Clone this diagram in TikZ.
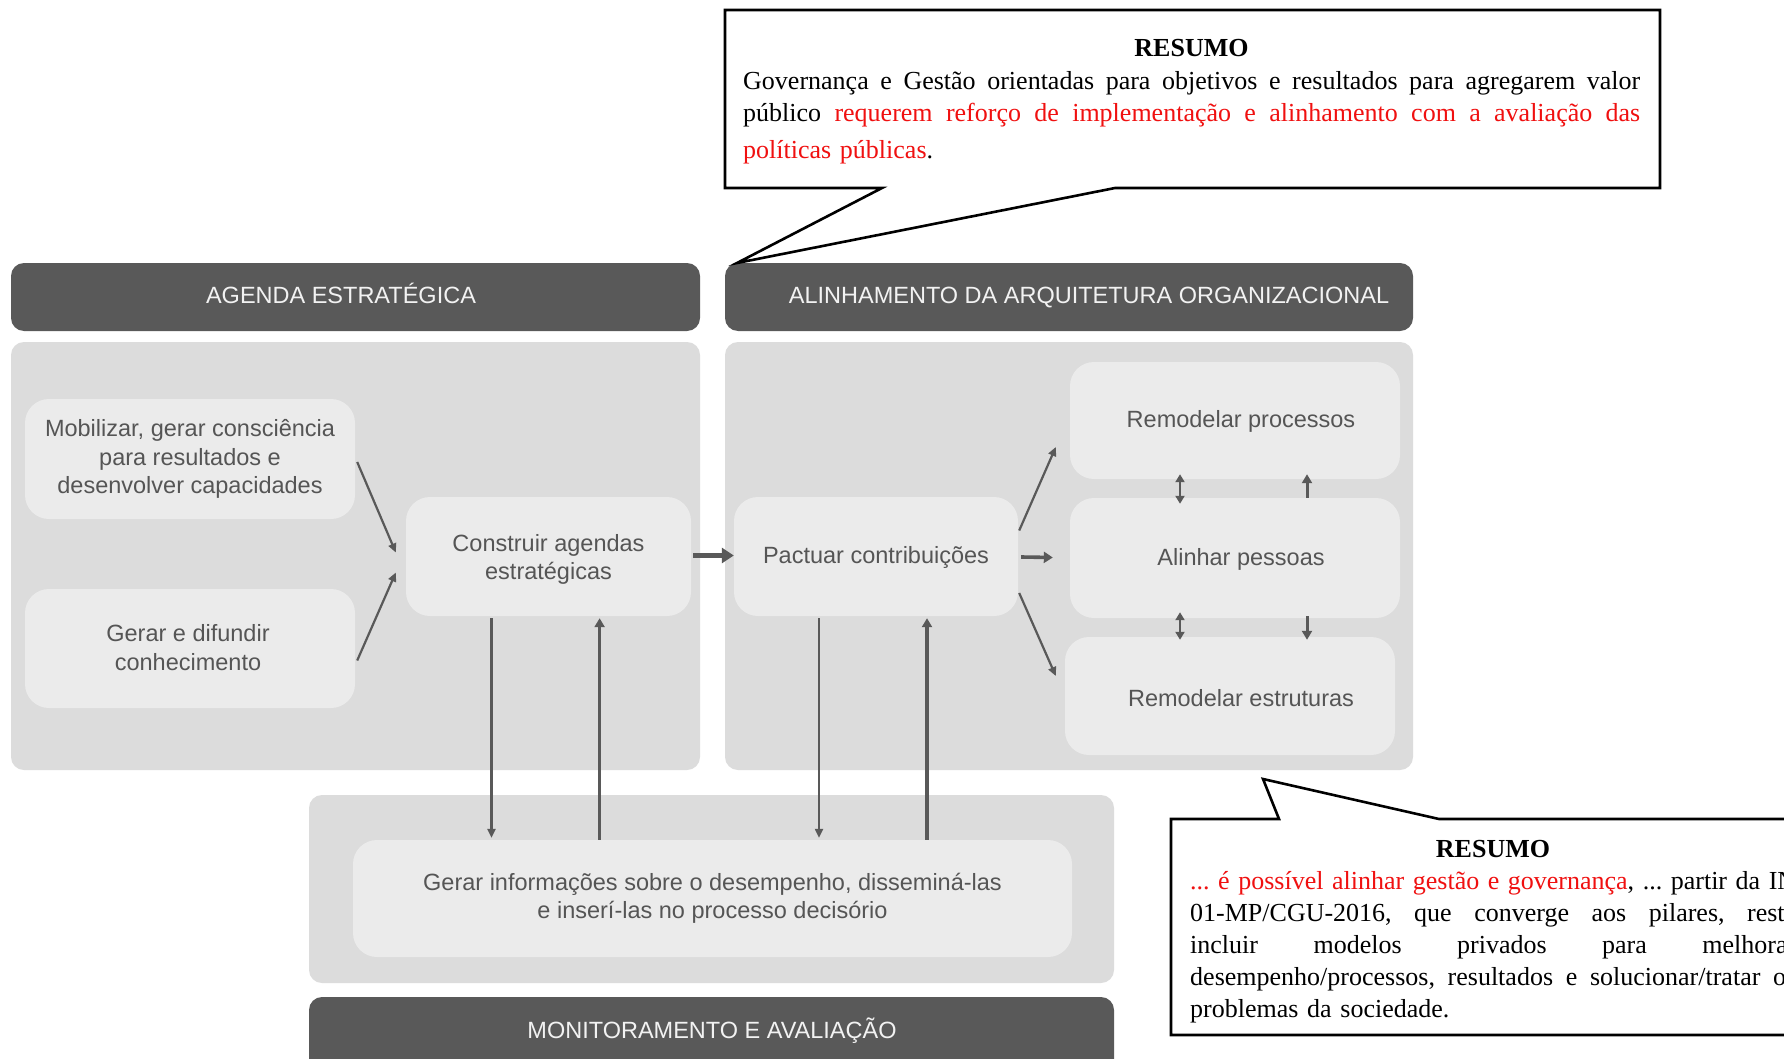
\documentclass[tikz,border=0pt]{standalone}
\usepackage{fontspec}
\setmainfont{Liberation Sans}
\newfontfamily\resumofont{Liberation Serif}
\usetikzlibrary{arrows.meta,calc}

\definecolor{barcol}{HTML}{595959}
\definecolor{panelcol}{HTML}{DCDCDC}
\definecolor{boxcol}{HTML}{EBEBEB}
\definecolor{inkcol}{HTML}{555555}
\definecolor{headink}{HTML}{F2F2F2}
\definecolor{resred}{HTML}{F01010}

% one justified line of a summary: the spaces stretch to fill the width
\newcommand{\fullline}[1]{\makebox[\linewidth][s]{\spaceskip=0.25em plus 1fil minus 0.08em #1}}
% a label lowered by #1 without changing the size its node sees
\newcommand{\lowered}[2]{\raisebox{-#1}[\height][\depth]{\begin{tabular}{@{}c@{}}#2\end{tabular}}}

\tikzset{
  headbar/.style={fill=barcol, draw=none, rounded corners=13pt},
  panel/.style={fill=panelcol, draw=none, rounded corners=13pt},
  stagebox/.style={fill=boxcol, draw=none, rounded corners=24pt, inner sep=0pt,
    align=center, text=inkcol, font=\fontsize{23.5}{28.4}\selectfont},
  headtext/.style={text=headink, inner sep=0pt, anchor=base, font=\fontsize{23.5}{28.4}\selectfont},
  thinarr/.style={draw=barcol, line width=2.2pt, -{Triangle[length=9pt,width=8pt]}},
  twoarr/.style={draw=barcol, line width=2.6pt, {Triangle[length=8pt,width=9pt]}-{Triangle[length=8pt,width=9pt]}},
  bigarr/.style={draw=barcol, line width=4.5pt, -{Triangle[length=12pt,width=15pt]}},
  riser/.style={draw=barcol, line width=3.4pt, -{Triangle[length=9pt,width=10pt]}},
  callout/.style={draw=black, line width=2.6pt, fill=white, line join=miter},
  resumo/.style={inner sep=0pt, anchor=north west, align=left,
    font=\resumofont\fontsize{26}{32}\selectfont\frenchspacing},
  resumohead/.style={inner sep=0pt, anchor=base,
    font=\resumofont\fontsize{26}{32}\selectfont\bfseries}
}

\begin{document}
\begin{tikzpicture}[x=1pt,y=-1pt]
\useasboundingbox (0,0) rectangle (1784,1059);
\clip (0,0) rectangle (1784,1059);
\fill[white] (0,0) rectangle (1784,1059);

% column headers and panels
\fill[headbar] (11,263) rectangle (700,331);
\fill[headbar] (725,263) rectangle (1413,331);
\fill[panel] (11,342) rectangle (700,770);
\fill[panel] (725,342) rectangle (1413,770);
\fill[panel] (309,795) rectangle (1114,983);
\fill[headbar] (309,997) rectangle (1114,1075);

\node[headtext] (hagenda) at (341,303) {AGENDA ESTRATÉGICA};
\node[headtext] (halin) at (1089,303) {ALINHAMENTO DA ARQUITETURA ORGANIZACIONAL};
\node[headtext] (hmon) at (712,1038.5) {MONITORAMENTO E AVALIAÇÃO};

% stages
\node[stagebox, minimum width=330pt, minimum height=120pt] (mob) at (190,459)
  {Mobilizar, gerar consciência\\para resultados e\\desenvolver capacidades};
\node[stagebox, minimum width=330pt, minimum height=119pt] (gen) at (190,648.5)
  {\lowered{1.7pt}{Gerar e difundir\\conhecimento}\hspace*{4pt}};
\node[stagebox, minimum width=285pt, minimum height=119pt] (cons) at (548.5,556.5)
  {\lowered{3.4pt}{Construir agendas\\estratégicas}};
\node[stagebox, minimum width=284pt, minimum height=119pt] (pact) at (876,556.5)
  {\lowered{1.1pt}{Pactuar contribuições}};
\node[stagebox, minimum width=330pt, minimum height=117pt] (proc) at (1235,420.5)
  {\hspace*{12pt}\lowered{1.1pt}{Remodelar processos}};
\node[stagebox, minimum width=330pt, minimum height=120pt] (pess) at (1235,558)
  {\hspace*{12pt}\lowered{2.3pt}{Alinhar pessoas}};
\node[stagebox, minimum width=330pt, minimum height=118pt] (estr) at (1230,696)
  {\hspace*{22pt}\lowered{4.5pt}{Remodelar estruturas}};
\node[stagebox, minimum width=719pt, minimum height=117pt] (info) at (712.5,898.5)
  {Gerar informações sobre o desempenho, disseminá-las\\e inserí-las no processo decisório};

% flows inside the strategic agenda
\draw[thinarr] ($(mob.east)+(2,3)$) -- ($(cons.west)+(-10,-4)$);
\draw[thinarr] ($(gen.east)+(2,12)$) -- ($(cons.west)+(-10,16)$);
\draw[bigarr] ($(cons.east)+(2,-1)$) -- ($(pact.west)+(0,-1)$);

% flows inside the organisational alignment
\draw[thinarr] ($(pact.east)+(1,-26)$) -- ($(proc.west)+(-14,26.5)$);
\draw[bigarr, line width=3.6pt, -{Triangle[length=9pt,width=11pt]}]
  ($(pact.east)+(3,0.5)$) -- ($(pess.west)+(-17,-0.5)$);
\draw[thinarr] ($(pact.east)+(1,36.5)$) -- ($(estr.west)+(-9,-20)$);

\coordinate (colA) at (1180,0);
\coordinate (colB) at (1307,0);
\draw[twoarr, shorten <=-5pt, shorten >=-6pt] (proc.south -| colA) -- (pess.north -| colA);
\draw[riser, line width=3pt, shorten >=-5pt] (pess.north -| colB) -- (proc.south -| colB);
\draw[twoarr, shorten <=-6pt, shorten >=-3pt] (pess.south -| colA) -- (estr.north -| colA);
\draw[riser, line width=3pt, shorten <=-2pt, shorten >=-3pt] (pess.south -| colB) -- (estr.north -| colB);

% links to monitoring
\coordinate (d1) at (491.5,0);
\coordinate (u1) at (599.6,0);
\coordinate (d2) at (819,0);
\coordinate (u2) at (927,0);
\draw[thinarr, shorten <=2pt, shorten >=2pt] (cons.south -| d1) -- (info.north -| d1);
\draw[riser, shorten >=2pt] (info.north -| u1) -- (cons.south -| u1);
\draw[thinarr, shorten <=2pt, shorten >=2pt] (pact.south -| d2) -- (info.north -| d2);
\draw[riser, shorten >=2pt] (info.north -| u2) -- (pact.south -| u2);

% summary callouts
\draw[callout] (725,10) -- (1660,10) -- (1660,188) -- (1115,188) -- (737,263)
  -- (882,188) -- (725,188) -- cycle;
\node[resumohead] (res1head) at (1191.5,57) {RESUMO};
\node[resumo, text width=897pt] (res1) at (743,71) {%
  \fullline{Governança e Gestão orientadas para objetivos e resultados para agregarem valor}\\
  \fullline{público \textcolor{resred}{requerem reforço de implementação e alinhamento com a avaliação das}}\\[5pt]
  \textcolor{resred}{políticas públicas}.};

\draw[callout] (1171,819) -- (1279,819) -- (1263,779) -- (1439,819) -- (1840,819)
  -- (1840,1035) -- (1171,1035) -- cycle;
\node[resumohead] (res2head) at (1493,857) {RESUMO};
\node[resumo, text width=606pt] (res2) at (1190,871) {%
  \fullline{\textcolor{resred}{... é possível alinhar gestão e governança}, ... partir da IN}\\
  \fullline{01-MP/CGU-2016, que converge aos pilares, resta}\\
  \fullline{incluir modelos privados para melhorar}\\
  \fullline{desempenho/processos, resultados e solucionar/tratar os}\\
  problemas da sociedade.};
\end{tikzpicture}
\end{document}
